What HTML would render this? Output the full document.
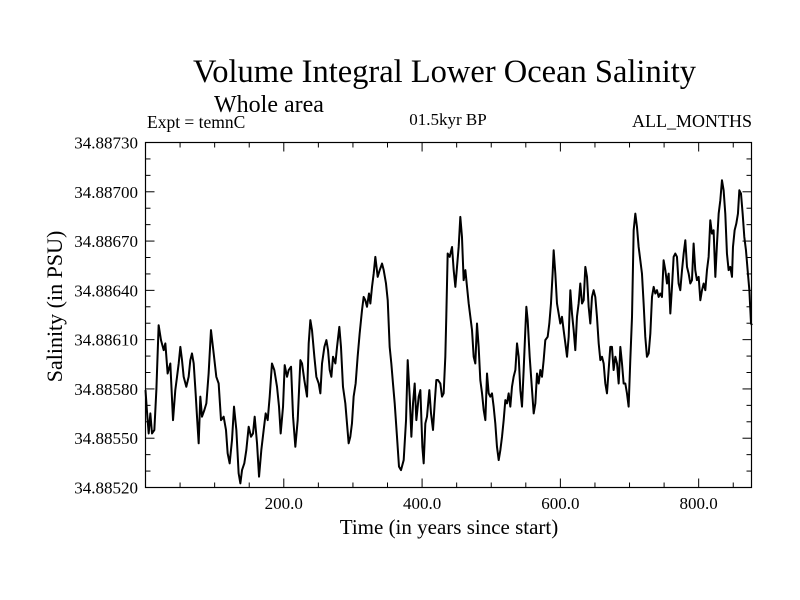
<!DOCTYPE html>
<html><head><meta charset="utf-8">
<style>
html,body{margin:0;padding:0;background:#fff;}
svg{display:block;font-family:"Liberation Serif",serif;}
</style></head>
<body>
<svg id="chart" width="800" height="600" viewBox="0 0 800 600">
<rect x="0" y="0" width="800" height="600" fill="#fff"/>
<text x="193" y="82" font-size="32.5">Volume Integral Lower Ocean Salinity</text>
<text x="214" y="112" font-size="24">Whole area</text>
<text x="147" y="128" font-size="17.5">Expt = temnC</text>
<text x="448" y="125" font-size="17" text-anchor="middle">01.5kyr BP</text>
<text x="752" y="127" font-size="18" text-anchor="end">ALL_MONTHS</text>
<text transform="translate(62,306.5) rotate(-90)" font-size="22" text-anchor="middle">Salinity (in PSU)</text>
<text x="449" y="534" font-size="21" text-anchor="middle">Time (in years since start)</text>
<g id="axes"></g>
<g id="series"></g>
<rect x="145.5" y="142.5" width="606" height="345" fill="none" stroke="#000" stroke-width="1.2"/>
</svg>
<script>
const years = [0,2,4.6,7,9.4,12.8,15.7,19,22.4,26.3,28.7,32,35.9,39.8,43.1,45.6,48,50.4,52.8,55.2,59,62.4,64.8,67.2,69.7,72.5,74.5,76.9,79.3,81.7,85.1,88,91.3,94.7,98.6,102.4,105.8,109.2,113,116.4,118.8,121.7,125.1,128,131.4,134.7,137.2,139.6,142.9,145.8,149.2,152.6,155.5,157.9,161.3,164.2,167.5,170.9,173.8,176.7,179.6,182.9,186.3,190.2,193.1,195.5,198.9,201.3,204.7,207.1,210.5,213.4,216.7,220.1,224,226.4,229.7,233.6,236,238.4,240.8,244.2,247.1,250.5,252.9,255.3,258.7,261.6,264,266.4,268.8,271.2,274.6,277,280.3,282.7,285.6,289,291.4,293.8,296.2,298.6,301,303.9,306.8,309.7,313.1,315.5,317.9,320.3,323.2,325.2,327.6,330,332.4,335.8,338.7,342.1,344.5,347.8,350.3,353.1,355.5,357.9,360.4,363.7,366.6,369.5,373.4,376.8,379.2,382.1,384.5,386.9,389.3,391.7,395.1,397.5,400.4,402.3,404.7,407.1,410.5,412.9,415.8,418.2,420.6,423,426.4,428.8,431.2,433.6,435,437,439.9,443.3,445.7,448.1,450.5,452.9,455.3,457.7,460.1,462.6,465,467.4,469.8,472.2,474.6,477,479.4,481.8,484.2,486.7,489.1,491.5,493.9,496.3,498.7,501.1,503.5,505.9,508.3,510.8,513.2,515.6,518,520.4,522.8,525.2,527.6,530,532.4,534.9,537.3,539.7,542.1,544.5,546.9,549.3,550.8,552.7,555.6,559,561.4,563.8,566.2,568.6,571,573.4,575.8,578.2,581.6,584,586.4,588.8,590.3,592.7,595.1,597.5,599.9,602.3,604.7,607.2,609.6,612,614.4,616.8,619.2,621.6,624,626.4,628.8,631.3,633.7,636.1,638.5,640.9,643.3,645.7,648.1,650.5,652.9,655.4,657.8,660.2,662.6,665,667.4,669.8,672.2,674.6,677,679.5,681.9,684.3,686.7,689.1,691.5,693.9,696.3,698.7,701.1,703.6,706,708.4,710.8,713.2,715.6,718,720.4,722.8,725.2,727.7,730.1,732.5,734.9,737.3,739.7,742.1,744.5,746.9,749.3,751.8,754.2,756.6,759,761.4,763.8,766.2,768.6,771,773.4,775.9,778.3,780.7,783.1,785.5,787.9,790.3,792.7,795.1,797.5,800,802.4,804.8,807.2,809.6,812,814.4,816.8,819.2,821.6,824.1,826.5,828.9,831.3,833.7,836.1,838.5,840.9,843.3,845.7,848.2,849.6,852,854.4,856.8,858.8,861.2,863.6,866,868.4,870.8,873.3,875.7,877.1];
// salinity minus 34.88, in units of 1e-5 PSU
const salinityE5 = [579.3,567.1,552.9,565.1,552.9,555.0,579.3,618.8,609.7,603.6,607.7,589.4,595.5,561.0,579.3,587.4,595.5,605.6,597.5,587.4,581.3,587.4,597.5,601.6,595.5,577.3,563.1,546.9,575.3,563.1,567.1,571.2,589.4,615.8,601.6,587.4,583.3,561.0,563.1,555.0,540.8,534.7,548.9,569.2,555.0,528.6,522.5,530.6,534.7,542.8,557.0,550.9,552.9,563.1,546.9,526.6,542.8,555.0,565.1,561.0,575.3,595.5,591.5,581.3,569.2,552.9,569.2,594.5,587.4,591.5,593.5,563.1,544.8,561.0,597.5,595.5,585.4,575.3,607.7,621.9,615.8,599.6,587.4,583.3,577.3,595.5,605.6,609.7,603.6,591.5,587.4,599.6,595.5,605.6,617.8,605.6,581.3,571.2,559.0,546.9,550.9,559.0,575.3,583.3,599.6,613.7,627.9,636.0,634.0,630.0,638.1,632.0,642.1,650.2,660.4,648.2,652.3,656.3,652.3,644.2,634.0,605.6,595.5,583.3,571.2,550.9,532.7,530.6,536.7,561.0,597.5,575.3,550.9,571.2,583.3,561.0,575.3,579.3,544.8,534.7,559.0,563.1,579.3,565.1,555.0,571.2,585.4,585.4,583.3,575.3,577.3,599.6,623.9,662.4,660.4,666.4,652.3,642.1,654.3,666.4,684.7,672.5,646.2,652.3,642.1,632.0,623.9,615.8,599.6,595.5,619.8,605.6,585.4,577.3,567.1,561.0,589.4,577.3,575.3,577.3,569.2,559.0,544.8,536.7,542.8,550.9,561.0,573.2,571.2,577.3,569.2,581.3,587.4,591.5,607.7,599.6,579.3,569.2,591.5,615.8,630.0,621.9,599.6,579.3,565.1,571.2,589.4,583.3,591.5,587.4,597.5,609.7,611.7,619.8,632.0,650.2,664.4,650.2,632.0,625.9,619.8,623.9,615.8,607.7,599.6,611.7,640.1,625.9,615.8,603.6,623.9,632.0,644.2,632.0,634.0,654.3,648.2,630.0,619.8,636.0,640.1,636.0,623.9,607.7,597.5,599.6,595.5,583.3,577.3,591.5,605.6,605.6,591.5,599.6,595.5,583.3,605.6,595.5,583.3,583.3,577.3,569.2,597.5,623.9,676.6,686.7,678.6,666.4,658.3,650.2,632.0,611.7,599.6,601.6,613.7,636.0,642.1,638.1,640.1,636.0,638.1,636.0,658.3,652.3,644.2,650.2,625.9,642.1,660.4,662.4,660.4,644.2,640.1,652.3,662.4,670.5,654.3,650.2,644.2,646.2,668.5,652.3,646.2,648.2,634.0,640.1,644.2,640.1,652.3,660.4,682.7,674.5,676.6,648.2,668.5,686.7,694.8,707.0,700.9,686.7,662.4,652.3,654.3,648.2,666.4,676.6,680.6,686.7,700.9,698.9,686.7,672.5,664.4,652.3,640.1,619.8,618.8];
const yTickValues = [520,550,580,610,640,670,700,730];
const yTickLabels = ["34.88520","34.88550","34.88580","34.88610","34.88640","34.88670","34.88700","34.88730"];
const xTickValues = [200,400,600,800];
const xTickLabels = ["200.0","400.0","600.0","800.0"];

const NS = "http://www.w3.org/2000/svg";
const X0 = 145.5, X1 = 751.5, Y0 = 487.5, Y1 = 142.5;
const xMin = 0, xMax = 876.4, yMin = 520, yMax = 730;
function xs(v){ return X0 + (v - xMin) / (xMax - xMin) * (X1 - X0); }
function ys(v){ return Y0 - (v - yMin) / (yMax - yMin) * (Y0 - Y1); }
function mk(tag, attrs){ const e = document.createElementNS(NS, tag); for (const k in attrs) e.setAttribute(k, attrs[k]); return e; }
const axes = document.getElementById('axes');
const series = document.getElementById('series');

for (let v = yMin; v <= yMax + 0.01; v += 10) {
  const major = Math.round(v - yMin) % 30 === 0;
  const len = major ? 9 : 5;
  const y = ys(v);
  const t1 = mk('line', {x1: X0, x2: X0 + len, y1: y, y2: y, stroke: '#000', 'stroke-width': 1});
  
  
  axes.appendChild(t1);
  const t2 = mk('line', {x1: X1, x2: X1 - len, y1: y, y2: y, stroke: '#000', 'stroke-width': 1});
  
  
  axes.appendChild(t2);
}
yTickValues.forEach((v, i) => {
  const t = mk('text', {x: 138, y: ys(v) + 6, 'font-size': 17, 'text-anchor': 'end'});
  t.textContent = yTickLabels[i];
  
  
  axes.appendChild(t);
});
for (let v = 50; v <= xMax; v += 50) {
  const major = v % 200 === 0;
  const len = major ? 9 : 5;
  const x = xs(v);
  const t1 = mk('line', {x1: x, x2: x, y1: Y0, y2: Y0 - len, stroke: '#000', 'stroke-width': 1});
  
  
  axes.appendChild(t1);
  const t2 = mk('line', {x1: x, x2: x, y1: Y1, y2: Y1 + len, stroke: '#000', 'stroke-width': 1});
  
  
  axes.appendChild(t2);
}
xTickValues.forEach((v, i) => {
  const t = mk('text', {x: xs(v), y: 509, 'font-size': 17, 'text-anchor': 'middle'});
  t.textContent = xTickLabels[i];
  
  
  axes.appendChild(t);
});
let d = '';
years.forEach((yr, i) => { d += (i ? 'L' : 'M') + xs(yr).toFixed(2) + ',' + ys(salinityE5[i]).toFixed(2); });
const path = mk('path', {d: d, fill: 'none', stroke: '#000', 'stroke-width': 2, 'stroke-linejoin': 'round'});


series.appendChild(path);
</script>
</body></html>
